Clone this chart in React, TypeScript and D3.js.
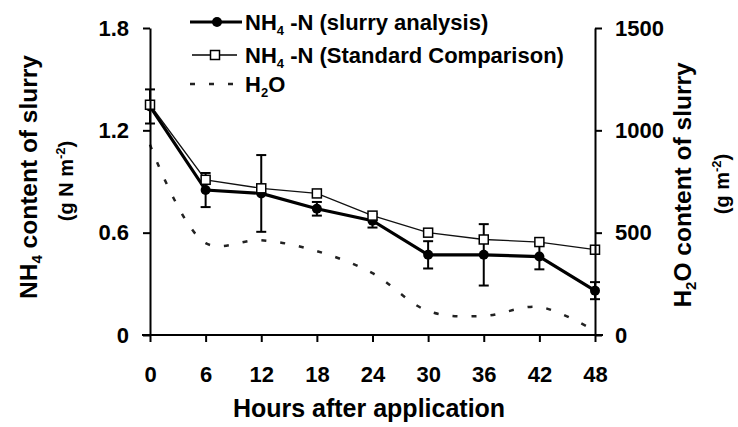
import React, { useEffect, useRef } from 'react';
import * as d3 from 'd3';

// hours after application
const hours = [0, 6, 12, 18, 24, 30, 36, 42, 48];
// NH4-N (slurry analysis), g N m-2
const slurryNH4 = [1.34, 0.85, 0.83, 0.74, 0.67, 0.47, 0.47, 0.46, 0.26];
const slurryErr = [0.1, 0.1, 0.225, 0.04, 0.04, 0.08, 0.18, 0.075, 0.05];
// NH4-N (Standard Comparison), g N m-2
const standardNH4 = [1.35, 0.91, 0.86, 0.83, 0.7, 0.6, 0.56, 0.545, 0.5];
// H2O content of slurry, g m-2
const waterContent = [930, 449, 463, 410, 302, 117, 93, 137, 20];

const leftTicks = [0, 0.6, 1.2, 1.8];
const rightTicks = [0, 500, 1000, 1500];
const xTicks = [0, 6, 12, 18, 24, 30, 36, 42, 48];

const W = 738;
const H = 427;
const FONT = '"Liberation Sans", Arial, sans-serif';

const App: React.FC = () => {
  const svgRef = useRef<SVGSVGElement>(null);

  useEffect(() => {
    if (!svgRef.current) return;
    const svg = d3.select(svgRef.current);
    svg.selectAll('*').remove();

    const x = d3.scaleLinear().domain([0, 48]).range([150, 595]);
    const yL = d3.scaleLinear().domain([0, 1.8]).range([335, 28]);
    const yR = d3.scaleLinear().domain([0, 1500]).range([335, 28]);

    // H2O dashed curve
    const waterLine = d3.line<number>()
      .x((_, i) => x(hours[i]))
      .y(d => yR(d))
      .curve(d3.curveCatmullRom.alpha(0.5));
    svg.append('path')
      .attr('d', waterLine(waterContent) || '')
      .attr('fill', 'none')
      .attr('stroke', '#222')
      .attr('stroke-width', 2.5)
      .attr('stroke-dasharray', '5,14');

    // Standard comparison
    const nLine = d3.line<number>().x((_, i) => x(hours[i])).y(d => yL(d));
    svg.append('path')
      .attr('d', nLine(standardNH4) || '')
      .attr('fill', 'none')
      .attr('stroke', '#111')
      .attr('stroke-width', 1.3);

    // Slurry analysis
    svg.append('path')
      .attr('d', nLine(slurryNH4) || '')
      .attr('fill', 'none')
      .attr('stroke', '#000')
      .attr('stroke-width', 3.2);

    // error bars
    const eb = svg.append('g').attr('stroke', '#000').attr('stroke-width', 2);
    slurryNH4.forEach((v, i) => {
      const cx = x(hours[i]);
      const top = yL(v + slurryErr[i]);
      const bot = yL(v - slurryErr[i]);
      eb.append('line').attr('x1', cx).attr('x2', cx).attr('y1', top).attr('y2', bot);
      eb.append('line').attr('x1', cx - 5).attr('x2', cx + 5).attr('y1', top).attr('y2', top);
      eb.append('line').attr('x1', cx - 5).attr('x2', cx + 5).attr('y1', bot).attr('y2', bot);
    });

    svg.selectAll('.dot')
      .data(slurryNH4)
      .enter().append('circle')
      .attr('cx', (_, i) => x(hours[i]))
      .attr('cy', d => yL(d))
      .attr('r', 5)
      .attr('fill', '#000');

    svg.selectAll('.sq')
      .data(standardNH4)
      .enter().append('rect')
      .attr('x', (_, i) => x(hours[i]) - 4.5)
      .attr('y', d => yL(d) - 4.5)
      .attr('width', 9)
      .attr('height', 9)
      .attr('fill', '#fff')
      .attr('stroke', '#000')
      .attr('stroke-width', 1.5);

    // axes
    const styleAxis = (g: d3.Selection<SVGGElement, unknown, null, undefined>) => {
      g.attr('font-size', null).attr('font-family', null);
      g.selectAll('path').attr('stroke', '#000').attr('stroke-width', 2);
      g.selectAll('line').attr('stroke', '#000').attr('stroke-width', 2);
      g.selectAll('text')
        .attr('fill', '#000')
        .style('font-family', FONT)
        .style('font-weight', 'bold')
        .style('font-size', '22px');
    };

    const gl = svg.append('g').attr('transform', 'translate(150,0)');
    gl.call(d3.axisLeft(yL).tickValues(leftTicks).tickSize(7).tickSizeOuter(0).tickPadding(14)
      .tickFormat(d => (d === 0 ? '0' : d3.format('.1f')(d as number))));
    styleAxis(gl);

    const gr = svg.append('g').attr('transform', 'translate(595,0)');
    gr.call(d3.axisRight(yR).tickValues(rightTicks).tickSize(7).tickSizeOuter(0).tickPadding(13)
      .tickFormat(d => String(d)));
    styleAxis(gr);

    const gb = svg.append('g').attr('transform', 'translate(0,335)');
    gb.call(d3.axisBottom(x).tickValues(xTicks).tickSize(7).tickSizeOuter(0).tickPadding(24)
      .tickFormat(d => String(d)));
    gb.select('path.domain').remove();
    styleAxis(gb);
    svg.append('line')
      .attr('x1', 142).attr('x2', 603).attr('y1', 335).attr('y2', 335)
      .attr('stroke', '#000').attr('stroke-width', 2);

    // axis titles
    const title = (tx: number, ty: number, rot: number, size: number) =>
      svg.append('text')
        .attr('transform', `translate(${tx},${ty}) rotate(${rot})`)
        .attr('text-anchor', 'middle')
        .style('font-family', FONT)
        .style('font-weight', 'bold')
        .style('font-size', `${size}px`)
        .attr('fill', '#000');

    const t1 = title(37, 177, -90, 24.5);
    t1.append('tspan').text('NH');
    t1.append('tspan').attr('dy', 5).style('font-size', '15px').text('4');
    t1.append('tspan').attr('dy', -5).text(' content of slurry');

    const t2 = title(73, 181, -90, 20);
    t2.append('tspan').text('(g N m');
    t2.append('tspan').attr('dy', -8).style('font-size', '13px').text('-2');
    t2.append('tspan').attr('dy', 8).text(')');

    const t3 = title(691, 185, -90, 24.5);
    t3.append('tspan').text('H');
    t3.append('tspan').attr('dy', 5).style('font-size', '15px').text('2');
    t3.append('tspan').attr('dy', -5).text('O content of slurry');

    const t4 = title(729, 184, -90, 20);
    t4.append('tspan').text('(g m');
    t4.append('tspan').attr('dy', -8).style('font-size', '13px').text('-2');
    t4.append('tspan').attr('dy', 8).text(')');

    title(369, 417, 0, 25).text('Hours after application');

    // legend
    const lg = svg.append('g');
    const leg = (ty: number) =>
      lg.append('text')
        .attr('x', 245).attr('y', ty + 8)
        .style('font-family', FONT)
        .style('font-weight', 'bold')
        .style('font-size', '22px')
        .attr('fill', '#000');

    lg.append('line').attr('x1', 190).attr('x2', 242).attr('y1', 22).attr('y2', 22)
      .attr('stroke', '#000').attr('stroke-width', 3.2);
    lg.append('circle').attr('cx', 217).attr('cy', 22).attr('r', 5).attr('fill', '#000');
    const l1 = leg(22);
    l1.append('tspan').text('NH');
    l1.append('tspan').attr('dy', 5).style('font-size', '13px').text('4');
    l1.append('tspan').attr('dy', -5).text(' -N (slurry analysis)');

    lg.append('line').attr('x1', 192).attr('x2', 237).attr('y1', 55).attr('y2', 55)
      .attr('stroke', '#000').attr('stroke-width', 1.3);
    lg.append('rect').attr('x', 210.5).attr('y', 50.5).attr('width', 9).attr('height', 9)
      .attr('fill', '#fff').attr('stroke', '#000').attr('stroke-width', 1.5);
    const l2 = leg(55);
    l2.append('tspan').text('NH');
    l2.append('tspan').attr('dy', 5).style('font-size', '13px').text('4');
    l2.append('tspan').attr('dy', -5).text(' -N (Standard Comparison)');

    lg.append('line').attr('x1', 190).attr('x2', 236).attr('y1', 84).attr('y2', 84)
      .attr('stroke', '#222').attr('stroke-width', 2.5).attr('stroke-dasharray', '5,14');
    const l3 = leg(84);
    l3.append('tspan').text('H');
    l3.append('tspan').attr('dy', 5).style('font-size', '13px').text('2');
    l3.append('tspan').attr('dy', -5).text('O');
  }, []);

  return (
    <svg
      ref={svgRef}
      width={W}
      height={H}
      style={{ position: 'absolute', left: 0, top: 0, background: '#fff' }}
    />
  );
};

export default App;
